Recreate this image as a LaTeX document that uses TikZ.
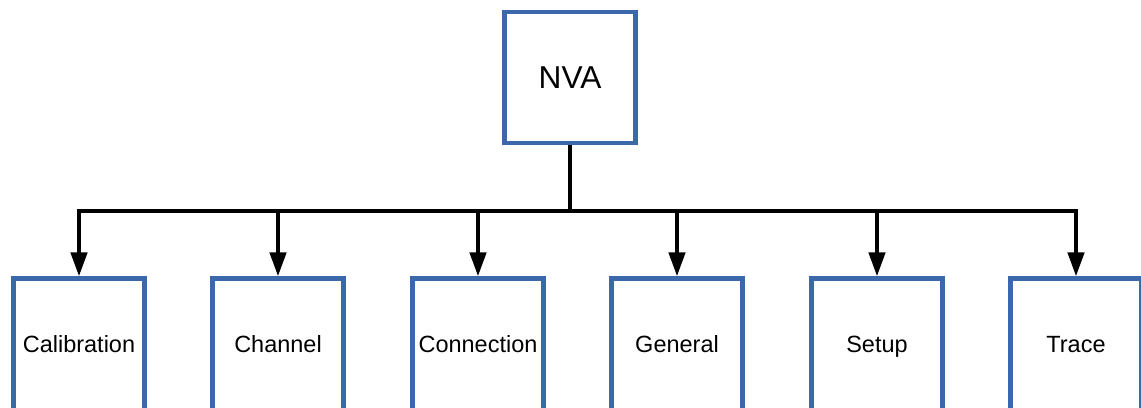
\documentclass[tikz,border=0pt]{standalone}
\usepackage{fontspec}
\setmainfont{Liberation Sans}
\usetikzlibrary{arrows.meta}
\definecolor{boxblue}{RGB}{58,104,170}

\begin{document}
\begin{tikzpicture}[x=0.025cm, y=-0.025cm,
    box/.style={draw=boxblue, line width=3.1pt, fill=white,
      minimum width=3.275cm, minimum height=3.275cm, inner sep=0pt},
    topbox/.style={box, font=\fontsize{22.5}{26}\selectfont,
      text height=20pt, text depth=3.9pt},
    subbox/.style={box, font=\fontsize{16.7}{20}\selectfont,
      minimum height=3.6cm, text height=15pt, text depth=12.3pt},
    conn/.style={line width=2.8pt, -{Triangle[length=17pt, width=11.5pt]}}]
    \useasboundingbox (0,0) rectangle (1141,407);

    % top block
    \node[topbox] (nva) at (570,77.5) {NVA};

    % branching coordinate
    \coordinate (bus) at (570,211);

    % sub blocks
    \node[subbox] (cal)   at (79,350.5)   {Calibration};
    \node[subbox] (chan)  at (278,350.5)  {Channel};
    \node[subbox] (conx)  at (478,350.5)  {Connection};
    \node[subbox] (gen)   at (677,350.5)  {General};
    \node[subbox] (setup) at (877,350.5)  {Setup};
    \node[subbox] (trace) at (1076,350.5) {Trace};

    % Lines
    \draw[line width=2.8pt] (nva.south) -- (bus);
    \draw[conn] (bus) -| (cal.north);
    \draw[conn] (bus) -| (chan.north);
    \draw[conn] (bus) -| (conx.north);
    \draw[conn] (bus) -| (gen.north);
    \draw[conn] (bus) -| (setup.north);
    \draw[conn] (bus) -| (trace.north);
\end{tikzpicture}
\end{document}
